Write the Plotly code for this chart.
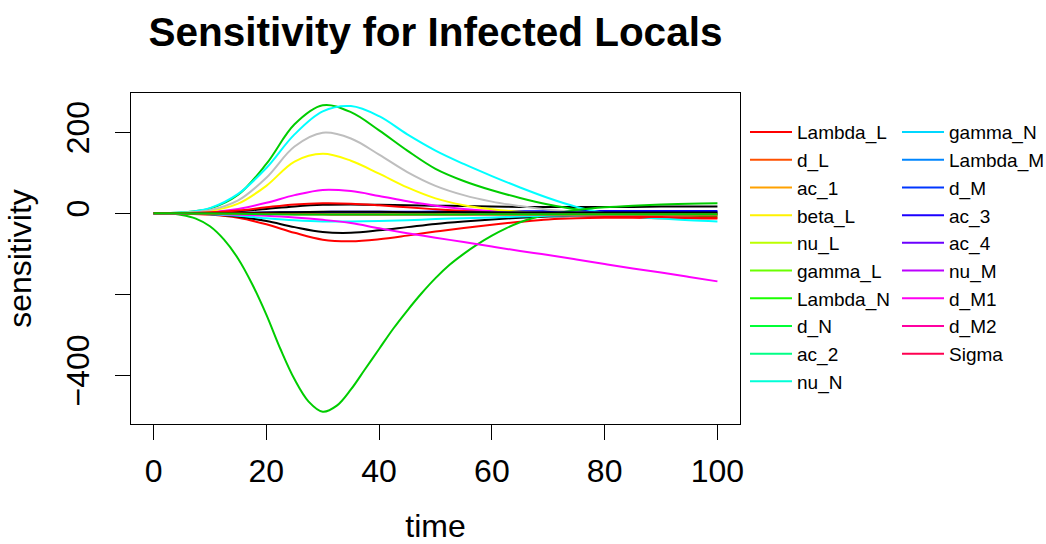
import colorsys
import plotly.graph_objects as go

# ---------------- data ----------------
time = [0, 5, 10, 15, 20, 25, 30, 35, 40, 45, 50, 55, 60, 65, 70, 75, 80, 85, 90, 95, 100]
# finer sampling for the steep gamma_N curve
time_fine = [0, 2.5, 5, 7.5, 10, 12.5, 15, 17.5, 20, 22.5, 25, 27.5, 30, 32.5, 35, 37.5, 40,
             42.5, 45, 47.5, 50, 52.5, 55, 57.5, 60, 62.5, 65, 67.5, 70, 72.5, 75, 77.5, 80,
             85, 90, 95, 100]

Lambda_L = [0, 0.3, 1.5, 5, 11, 17, 21, 22, 21, 20, 19, 18, 17, 16, 16, 16, 16, 16, 17, 17, 17]
d_L = [0, -0.5, -3, -11, -27, -48, -65, -69, -64, -55, -45, -36, -28, -21, -15, -12, -11, -11, -12, -12, -13]
ac_1 = [0, 2, 12, 46, 122, 220, 267, 250, 205, 155, 110, 80, 57, 38, 22, 10, 3, -2, -4, -6, -7]
beta_L = [0, 0, 0.5, 1, 2, 3, 3.5, 4, 4, 4, 4.5, 5, 5, 5, 5.5, 5.5, 6, 6, 6, 6, 6]
nu_L = [0, 2, 13, 48, 112, 195, 252, 265, 240, 195, 155, 122, 92, 64, 38, 16, 1, -8, -13, -17, -20]
gamma_L = [0, 0.5, 3, 11, 26, 45, 58, 55, 43, 30, 19, 11, 6, 3, 1, 0, -1, -1, -1, -1, -1]
Lambda_N = [0, 1, 6, 24, 68, 128, 147, 130, 98, 64, 37, 20, 10, 4, 1, -1, -2, -2, -3, -3, -3]
d_N = [0, 1, 8, 32, 88, 165, 199, 185, 145, 102, 68, 45, 29, 18, 9, 4, 1, 0, -1, -1, -2]
ac_2 = [0, -0.3, -2, -8, -19, -34, -46, -48, -42, -34, -26, -20, -15, -11, -8, -6, -4, -3, -2, -2, -2]
nu_N = [0, 0.5, 2.5, 7, 15, 22, 25, 24, 20, 15, 10, 6, 2, -1, -4, -6, -8, -9, -9, -10, -10]
gamma_N = [0, -0.5, -4, -13, -32, -65, -112, -175, -250, -335, -410, -465, -490, -475, -435,
           -385, -335, -285, -240, -198, -160, -127, -100, -76, -55, -37, -22, -11, -3, 3, 8,
           12, 15, 19, 22, 24, 25]
Lambda_M = [0, 0, 0.2, 0.5, 1, 1.5, 2, 2, 2, 2, 2, 2, 2, 2, 2, 2, 2, 2, 2, 2, 2]
d_M = [0, -0.5, -2, -6, -12, -17, -20, -20, -19, -17, -14, -12, -10, -8, -6, -5, -4, -3, -3, -2, -2]
ac_3 = [0, -0.3, -1.5, -3.5, -6, -10, -16, -24, -37, -49, -60, -71, -82, -93, -103, -114, -125, -136, -146, -157, -168]
ac_4 = [0, 0, -0.2, -0.5, -1, -1.5, -2, -2, -2, -2, -2, -2, -2, -2, -2, -2, -2, -2, -2, -2, -2]
nu_M = [0, 0, -0.3, -0.8, -1.5, -2, -2.5, -3, -3, -3, -3, -3, -3, -3, -3, -3, -3, -3, -3, -3, -3]
d_M1 = [0, 0, 0.3, 1, 2, 3, 4, 4, 4, 3, 3, 3, 2, 2, 2, 2, 2, 2, 2, 2, 2]
d_M2 = [0, 0, -0.2, -0.5, -1, -2, -2.5, -3, -3, -3, -3, -3, -3, -3, -3, -3, -3, -3, -3, -3, -3]
Sigma = [0, 0, -0.3, -1, -2, -3, -3, -3, -3, -3, -3, -3, -2, -2, -2, -2, -2, -2, -2, -2, -2]

series_names = ["Lambda_L", "d_L", "ac_1", "beta_L", "nu_L", "gamma_L", "Lambda_N", "d_N",
                "ac_2", "nu_N", "gamma_N", "Lambda_M", "d_M", "ac_3", "ac_4", "nu_M",
                "d_M1", "d_M2", "Sigma"]
series_values = [Lambda_L, d_L, ac_1, beta_L, nu_L, gamma_L, Lambda_N, d_N,
                 ac_2, nu_N, gamma_N, Lambda_M, d_M, ac_3, ac_4, nu_M,
                 d_M1, d_M2, Sigma]
series_times = [time_fine if name == "gamma_N" else time for name in series_names]

x_ticks = [0, 20, 40, 60, 80, 100]
y_ticks = [-400, -200, 0, 200]
y_ticktext = ["\u2212400", "", "0", "200"]

# ---------------- styles ----------------
line_palette = ["#000000", "#FF0000", "#00CD00", "#0000FF", "#00FFFF", "#FF00FF", "#FFFF00", "#BEBEBE"]
n = len(series_names)
legend_colors = []
for i in range(n):
    r, g, b = colorsys.hsv_to_rgb(i / n, 1, 1)
    legend_colors.append("#%02X%02X%02X" % (round(r * 255), round(g * 255), round(b * 255)))

FONT = "Liberation Sans, Arial, Helvetica, sans-serif"

fig = go.Figure()
for i, (name, xs, vals) in enumerate(zip(series_names, series_times, series_values)):
    fig.add_trace(go.Scatter(
        x=xs, y=vals, mode="lines", name=name,
        line=dict(color=line_palette[i % len(line_palette)], width=2, shape="spline", smoothing=1.0),
        showlegend=False, hoverinfo="skip"))

# legend entries (rainbow colours, two columns)
for i, name in enumerate(series_names):
    fig.add_trace(go.Scatter(
        x=[None], y=[None], mode="lines", name=name,
        line=dict(color=legend_colors[i], width=2),
        legend="legend" if i < 10 else "legend2", showlegend=True))

all_vals = [v for s in series_values for v in s]
ymin, ymax = min(all_vals), max(all_vals)
pad = 0.04 * (ymax - ymin)
xpad = 0.04 * (time[-1] - time[0])

axis_common = dict(
    showline=True, mirror=True, linecolor="black", linewidth=1,
    ticks="outside", ticklen=15, tickwidth=1, tickcolor="black",
    showgrid=False, zeroline=False, tickfont=dict(size=32, family=FONT, color="black"),
)

legend_common = dict(xanchor="left", yanchor="top", bgcolor="rgba(0,0,0,0)", itemwidth=42,
                     font=dict(size=19, family=FONT, color="black"), borderwidth=0)

fig.update_layout(
    width=1046, height=544,
    margin=dict(l=131, r=306, t=93, b=120, autoexpand=False),
    paper_bgcolor="white", plot_bgcolor="white",
    font=dict(family=FONT, color="black"),
    title=dict(text="Sensitivity for Infected Locals", x=0.5, xref="paper", xanchor="center",
               y=1 - 32 / 544, yref="container", yanchor="middle",
               font=dict(size=40.5, weight="bold", family=FONT, color="black")),
    xaxis=dict(range=[time[0] - xpad, time[-1] + xpad], tickvals=x_ticks,
               ticklabelstandoff=4,
               title=dict(text="time", font=dict(size=32, family=FONT), standoff=36),
               **axis_common),
    yaxis=dict(range=[ymin - pad, ymax + pad], tickvals=y_ticks, ticktext=y_ticktext,
               tickangle=-90, ticklabelstandoff=13,
               title=dict(text="sensitivity", font=dict(size=32, family=FONT), standoff=19),
               **axis_common),
    legend=dict(x=1.0082, y=0.939, **legend_common),
    legend2=dict(x=1.2578, y=0.939, **legend_common),
)

fig.write_html("out.html")
